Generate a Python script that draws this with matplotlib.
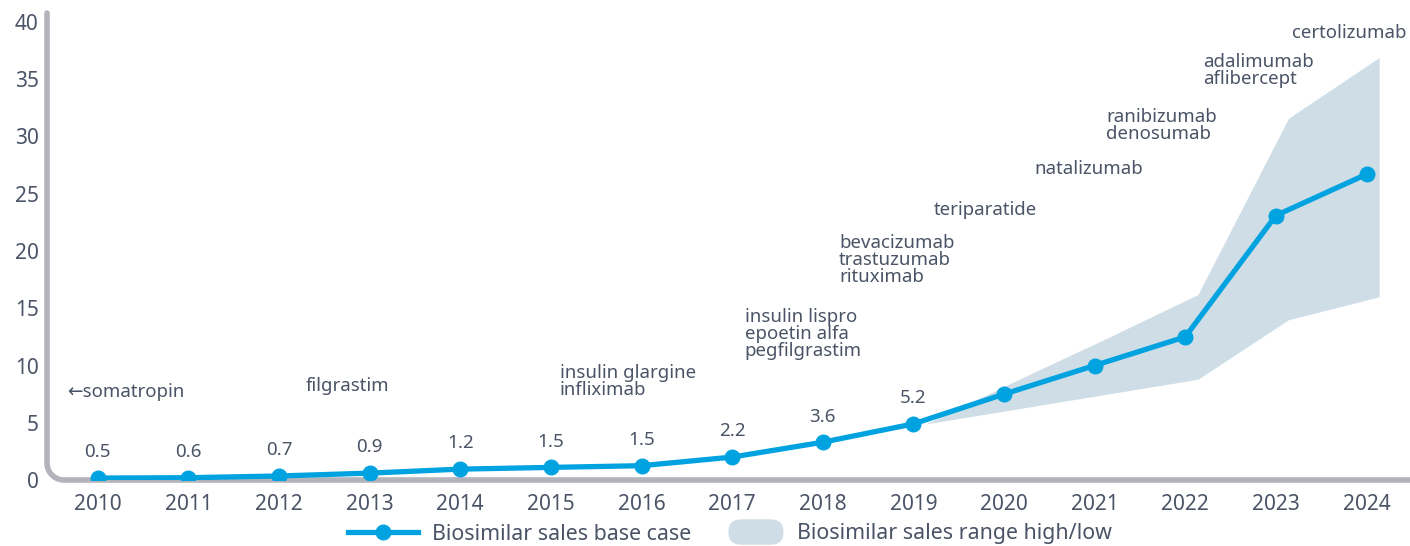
import numpy as np
import matplotlib
matplotlib.use("Agg")
import matplotlib.pyplot as plt
from matplotlib.lines import Line2D
from matplotlib.patches import Patch, FancyBboxPatch
from matplotlib.legend_handler import HandlerPatch

# 数据
years = list(range(2010, 2025))
base_case = [0.17, 0.2, 0.35, 0.6, 0.95, 1.1, 1.25, 2.0, 3.3, 4.9, 7.5, 10.0, 12.5, 23.1, 26.7]
value_labels = ["0.5", "0.6", "0.7", "0.9", "1.2", "1.5", "1.5", "2.2", "3.6", "5.2"]

range_years = [2019, 2020, 2021, 2022, 2023, 2024]
range_high = [4.9, 8.7, 12.4, 16.2, 31.6, 36.9]
range_low = [4.9, 6.2, 7.5, 8.8, 14.0, 16.0]

# 药物注释 (x, y, 文本)
drug_x = [2009.66, 2012.29, 2015.10, 2017.14, 2018.18, 2019.23, 2020.34, 2021.13, 2022.20, 2023.18]
drug_y = [7.7, 8.2, 8.6, 12.75, 19.2, 23.6, 27.2, 31.0, 35.8, 39.0]
drug_text = [
    "\u2190somatropin",
    "filgrastim",
    "insulin glargine\ninfliximab",
    "insulin lispro\nepoetin alfa\npegfilgrastim",
    "bevacizumab\ntrastuzumab\nrituximab",
    "teriparatide",
    "natalizumab",
    "ranibizumab\ndenosumab",
    "adalimumab\naflibercept",
    "certolizumab",
]

blue = "#00a3e0"
band = "#cfdde6"
axis_gray = "#b3b3bb"
text_col = "#4a5466"

plt.rcParams['font.family'] = ['Noto Sans', 'DejaVu Sans']

W, H = 1410, 546
fig = plt.figure(figsize=(W / 100, H / 100), dpi=100)
ax = fig.add_axes([47 / W, (H - 480) / H, (W - 47) / W, (480 - 13) / H])
ax.set_xlim(2009.44, 2024.48)
ax.set_ylim(0, (480 - 13) / 11.45)

# 区间带（原图略微右移）
band_shift = 0.14
ax.fill_between(np.array(range_years) + band_shift, range_low, range_high,
                color=band, lw=0, zorder=1)

ax.plot(years, base_case, color=blue, lw=3.8, marker="o", ms=10.5, zorder=3)

for i, lab in enumerate(value_labels):
    ax.annotate(lab, (years[i], base_case[i]), xytext=(0, 18.5), textcoords="offset points",
                ha="center", va="center", fontsize=13.5, color=text_col)

for x, y, t in zip(drug_x, drug_y, drug_text):
    ax.text(x, y, t, ha="left", va="center", fontsize=13.4, color=text_col, linespacing=0.93)

for s in ax.spines.values():
    s.set_visible(False)

# 圆角 L 形坐标轴
rx = 17 / (W - 47)
ry = 17 / (480 - 13)
th = np.linspace(np.pi, 1.5 * np.pi, 20)
xs = np.concatenate([[0], rx + rx * np.cos(th), [1]])
ys = np.concatenate([[1], ry + ry * np.sin(th), [0]])
ax.plot(xs, ys, transform=ax.transAxes, color=axis_gray, lw=4, clip_on=False,
        solid_capstyle="round", zorder=2)

ax.set_xticks(years)
ax.set_yticks(range(0, 41, 5))
ax.tick_params(length=0, labelsize=15, colors=text_col)
ax.tick_params(axis="x", pad=10)
ax.tick_params(axis="y", pad=6)


class HandlerPill(HandlerPatch):
    def create_artists(self, legend, orig_handle, xdescent, ydescent, width, height, fontsize, trans):
        x0 = -xdescent + 0.22 * width
        p = FancyBboxPatch((x0, -ydescent - 0.35 * height), width * 0.78, height * 1.7,
                           boxstyle="round,pad=0,rounding_size=%f" % (height * 0.85),
                           facecolor=band, edgecolor="none", transform=trans)
        return [p]


h1 = Line2D([], [], color=blue, lw=3.8, marker="o", ms=10.5)
h2 = Patch(facecolor=band)
fig.legend([h1, h2], ["Biosimilar sales base case", "Biosimilar sales range high/low"],
           handler_map={Patch: HandlerPill()}, loc="center", bbox_to_anchor=(730 / W, 1 - 534 / H),
           ncol=2, frameon=False, fontsize=15.4, labelcolor=text_col, handlelength=3.3,
           columnspacing=1.0, handletextpad=0.65)

fig.savefig("out.png", dpi=100)
